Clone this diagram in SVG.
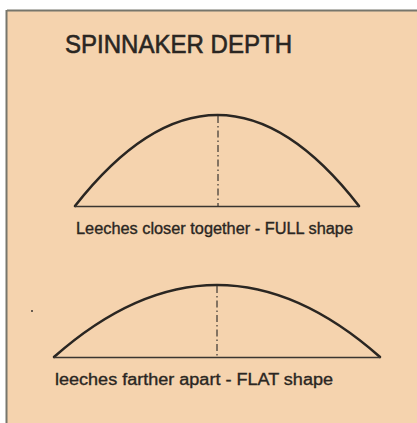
<svg xmlns="http://www.w3.org/2000/svg" width="417" height="423" viewBox="0 0 417 423">
<style>
.arc{fill:none;stroke:#2a2622;stroke-width:2.6;stroke-linecap:round;stroke-linejoin:round}
.base{fill:none;stroke:#3a3530;stroke-width:1.6}
.dash{fill:none;stroke:#3a3530;stroke-width:1.2;stroke-dasharray:7 3 1.5 3}
.lbl{font-family:"Liberation Sans","DejaVu Sans",sans-serif;font-size:16px;fill:#2a2622;stroke:#2a2622;stroke-width:0.35}
.title{font-family:"Liberation Sans","DejaVu Sans",sans-serif;font-size:26px;fill:#2a2622;stroke:#2a2622;stroke-width:0.6}
</style>
<rect width="417" height="423" fill="#ffffff"/>
<rect x="7" y="10" width="410" height="413" fill="#f5d3ae"/>
<path d="M7 10.5H417M6.5 10V423" stroke="#77766c" stroke-width="2" fill="none"/>
<text class="title" x="65" y="53" textLength="227" lengthAdjust="spacingAndGlyphs">SPINNAKER DEPTH</text>
<g id="full-shape">
<path class="arc" d="M75 206 Q218 24 359 206"/>
<line class="base" x1="75" y1="206.5" x2="359" y2="206.5"/>
<line class="dash" x1="218" y1="116" x2="218" y2="206"/>
<text class="lbl" x="76" y="234" textLength="277" lengthAdjust="spacingAndGlyphs">Leeches closer together - FULL shape</text>
</g>
<g id="flat-shape">
<path class="arc" d="M54 357 Q217 213 380 357"/>
<line class="base" x1="54" y1="357.5" x2="380" y2="357.5"/>
<line class="dash" x1="217" y1="286" x2="217" y2="357"/>
<text class="lbl" x="55" y="385" textLength="278" lengthAdjust="spacingAndGlyphs">leeches farther apart - FLAT shape</text>
</g>
<circle cx="32" cy="311" r="1" fill="#3a3530"/>
</svg>
